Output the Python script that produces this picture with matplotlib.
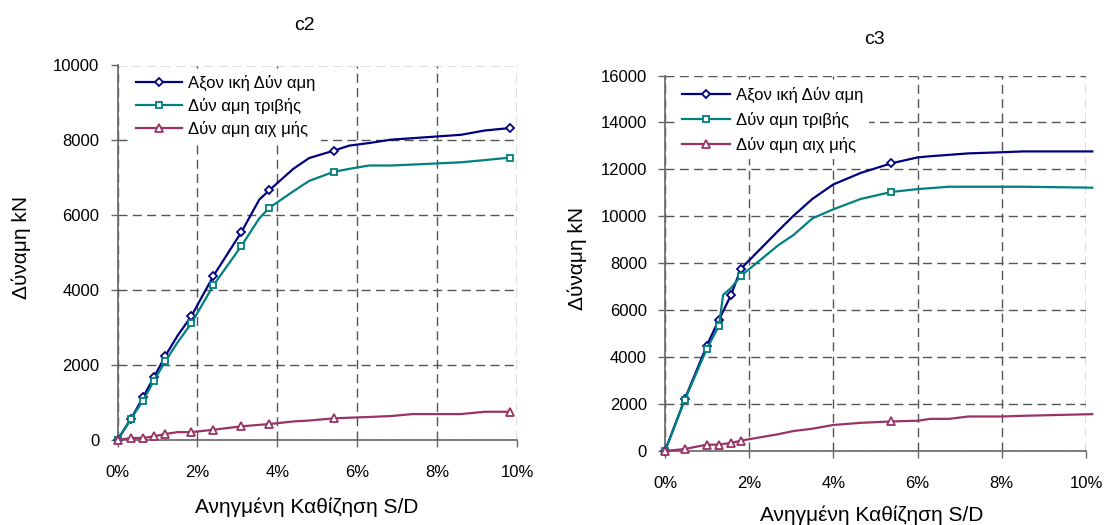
import matplotlib
matplotlib.use("Agg")
import matplotlib.pyplot as plt
from matplotlib.ticker import FuncFormatter

plt.rcParams['font.family'] = ['Liberation Sans', 'DejaVu Sans']

# --- c2 pile (S/D in %, forces in kN) ---
c2_sd = [0, 0.33, 0.64, 0.91, 1.2, 1.5, 1.85, 2.4, 3.1, 3.55, 3.8, 4.4, 4.8, 5.41,
         5.8, 6.3, 6.85, 7.4, 8.6, 9.2, 9.82]
c2_axial = [0, 550, 1140, 1670, 2250, 2780, 3310, 4380, 5550, 6420, 6670, 7240, 7530,
            7725, 7860, 7930, 8020, 8060, 8150, 8265, 8330]
c2_shaft = [0, 560, 1050, 1580, 2110, 2600, 3120, 4130, 5180, 5920, 6200, 6640, 6920,
            7160, 7240, 7330, 7330, 7355, 7415, 7475, 7540]
c2_tip = [0, 53, 53, 99, 160, 210, 210, 274, 365, 405, 426, 495, 520, 578,
          595, 615, 640, 693, 693, 754, 754]
c2_marks = [[0, 1, 2, 3, 4, 6, 7, 8, 10, 13, 20]] * 3

# --- c3 pile ---
c3_sd = [0, 0.47, 0.99, 1.28, 1.38, 1.57, 1.8, 2.7, 3.05, 3.5, 4.0, 4.65, 5.37,
         6.0, 6.3, 6.75, 7.2, 8.0, 8.5, 10.15]
c3_axial = [0, 2210, 4480, 5590, 5950, 6650, 7760, 9400, 10020, 10740, 11360, 11850,
            12255, 12510, 12560, 12620, 12680, 12730, 12765, 12765]
c3_shaft = [0, 2180, 4340, 5330, 6650, 6950, 7460, 8780, 9200, 9910, 10300, 10740,
            11035, 11160, 11200, 11260, 11260, 11260, 11260, 11220]
c3_tip = [0, 85, 270, 270, 300, 340, 440, 720, 850, 950, 1110, 1200, 1260,
          1290, 1370, 1370, 1470, 1470, 1500, 1570]
c3_marks = [[0, 1, 2, 3, 5, 6, 12], [0, 1, 2, 3, 6, 12], [0, 1, 2, 3, 5, 6, 12]]

labels = ['Αξον ική Δύν αμη', 'Δύν αμη τριβής', 'Δύν αμη αιχ μής']
colors = ['#000080', '#008080', '#993366']
markers = ['D', 's', '^']
msizes = [4.3, 4.6, 6.0]

grid_col = '#555555'

fig = plt.figure(figsize=(11.04, 5.25), dpi=100)
ax1 = fig.add_axes([117.5 / 1104, (525 - 440) / 525, 399.5 / 1104, 374.5 / 525])
ax2 = fig.add_axes([665 / 1104, (525 - 451) / 525, 421 / 1104, 375.5 / 525])


def draw(ax, sd, series, marks, ymax, ystep, leg_anchor, leg_spacing, handle_len):
    x = [v / 100 for v in sd]
    for y, mk, lab, c, m, ms in zip(series, marks, labels, colors, markers, msizes):
        ax.plot(x, y, color=c, lw=1.6, marker=m, ms=ms, mfc='white', mec=c, mew=1.3,
                markevery=mk, label=lab, clip_on=False, zorder=3)
    ax.set_xlim(0, 0.10)
    ax.set_ylim(0, ymax)
    ax.set_xticks([0, 0.02, 0.04, 0.06, 0.08, 0.10])
    ax.set_yticks(range(0, ymax + 1, ystep))
    ax.xaxis.set_major_formatter(FuncFormatter(lambda v, p: '%d%%' % round(v * 100)))
    ax.grid(True, color=grid_col, lw=1, linestyle=(0, (6.5, 3.8)), zorder=1)
    ax.set_axisbelow(True)
    for s in ['top', 'right']:
        ax.spines[s].set_visible(False)
    for s in ['left', 'bottom']:
        ax.spines[s].set_color('#666666')
        ax.spines[s].set_linewidth(1.2)
    ax.tick_params(axis='x', direction='out', length=5, width=1, color='#666666',
                   labelsize=12, pad=13)
    ax.tick_params(axis='y', direction='out', length=5, width=1, color='#666666',
                   labelsize=12, pad=8)
    leg = ax.legend(loc='upper left', bbox_to_anchor=leg_anchor, frameon=True,
                    fontsize=12, handlelength=handle_len, handletextpad=0.35,
                    labelspacing=leg_spacing, borderaxespad=0, borderpad=0.35)
    leg.get_frame().set_facecolor('white')
    leg.get_frame().set_edgecolor('none')
    leg.get_frame().set_alpha(1)
    leg.set_zorder(5)


draw(ax1, c2_sd, [c2_axial, c2_shaft, c2_tip], c2_marks, 10000, 2000,
     (0.032, 0.99), 0.42, 2.75)
draw(ax2, c3_sd, [c3_axial, c3_shaft, c3_tip], c3_marks, 16000, 2000,
     (0.026, 0.985), 0.54, 2.9)

# titles and axis labels
fig.text(304 / 1104, 1 - 25 / 525, 'c2', ha='center', va='center', fontsize=14)
fig.text(874 / 1104, 1 - 39 / 525, 'c3', ha='center', va='center', fontsize=14)
fig.text(21.5 / 1104, 1 - 247 / 525, 'Δύναμη kN', rotation=90, ha='center', va='center', fontsize=15)
fig.text(577 / 1104, 1 - 258 / 525, 'Δύναμη kN', rotation=90, ha='center', va='center', fontsize=15)
fig.text(307 / 1104, 1 - 507 / 525, 'Ανηγμένη Καθίζηση S/D', ha='center', va='center', fontsize=15)
fig.text(872 / 1104, 1 - 515 / 525, 'Ανηγμένη Καθίζηση S/D', ha='center', va='center', fontsize=15)

fig.savefig('out.png', dpi=100)
